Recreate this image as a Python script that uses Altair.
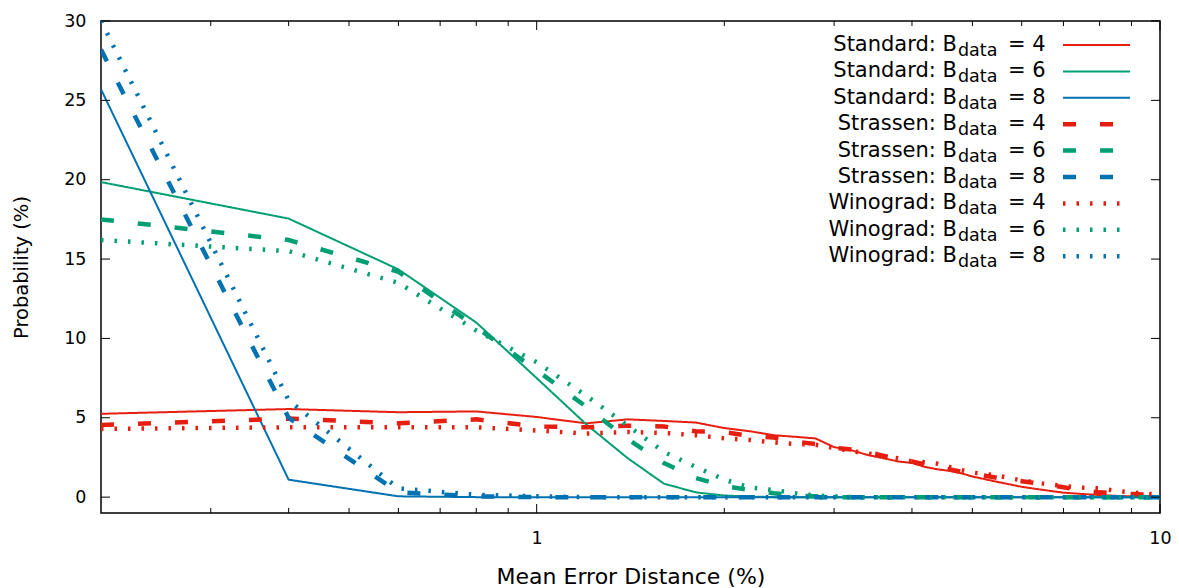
import altair as alt
import pandas as pd

# ---------------- data ----------------
X = [0.2, 0.4, 0.6, 0.8, 1.0, 1.2, 1.4, 1.6, 1.8, 2.0, 2.2, 2.4, 2.6, 2.8, 3.0,
     3.2, 3.4, 3.6, 3.8, 4.0, 4.2, 4.4, 4.6, 4.8, 5.0, 5.5, 6.0, 6.5, 7.0, 7.5,
     8.0, 8.5, 9.0, 9.5, 10.0]

standard_4 = [5.25, 5.55, 5.35, 5.4, 5.05, 4.65, 4.9, 4.8, 4.7, 4.35, 4.15, 3.9, 3.8, 3.7, 3.15,
              2.95, 2.65, 2.45, 2.25, 2.15, 1.9, 1.75, 1.65, 1.5, 1.3, 0.95, 0.65, 0.45, 0.28, 0.2,
              0.13, 0.08, 0.05, 0.03, 0.02]
standard_6 = [19.85, 17.55, 14.35, 11.0, 7.5, 4.6, 2.45, 0.85, 0.3, 0.1, 0.04, 0, 0, 0, 0,
              0, 0, 0, 0, 0, 0, 0, 0, 0, 0, 0, 0, 0, 0, 0,
              0, 0, 0, 0, 0]
standard_8 = [25.7, 1.1, 0.05, 0, 0, 0, 0, 0, 0, 0, 0, 0, 0, 0, 0,
              0, 0, 0, 0, 0, 0, 0, 0, 0, 0, 0, 0, 0, 0, 0,
              0, 0, 0, 0, 0]
strassen_4 = [4.55, 4.95, 4.65, 4.9, 4.45, 4.4, 4.5, 4.45, 4.15, 4.1, 3.85, 3.75, 3.5, 3.35, 3.1,
              3.0, 2.85, 2.6, 2.4, 2.25, 2.05, 1.9, 1.75, 1.6, 1.5, 1.2, 1.0, 0.82, 0.62, 0.42,
              0.3, 0.25, 0.2, 0.15, 0.1]
strassen_6 = [17.5, 16.2, 14.2, 10.7, 8.0, 5.7, 3.65, 2.15, 1.2, 0.7, 0.45, 0.25, 0.1, 0.05, 0,
              0, 0, 0, 0, 0, 0, 0, 0, 0, 0, 0, 0, 0, 0, 0,
              0, 0, 0, 0, 0]
strassen_8 = [28.2, 5.0, 0.3, 0.05, 0, 0, 0, 0, 0, 0, 0, 0, 0, 0, 0,
              0, 0, 0, 0, 0, 0, 0, 0, 0, 0, 0, 0, 0, 0, 0,
              0, 0, 0, 0, 0]
winograd_4 = [4.3, 4.4, 4.4, 4.4, 4.2, 4.0, 4.1, 4.05, 3.9, 3.7, 3.6, 3.45, 3.35, 3.3, 3.1,
              2.9, 2.75, 2.6, 2.45, 2.25, 2.2, 2.1, 1.9, 1.7, 1.55, 1.35, 1.05, 0.85, 0.7, 0.6,
              0.55, 0.4, 0.3, 0.22, 0.15]
winograd_6 = [16.2, 15.5, 13.5, 10.5, 8.5, 6.4, 4.5, 2.85, 1.9, 1.1, 0.6, 0.45, 0.25, 0.1, 0.05,
              0, 0, 0, 0, 0, 0, 0, 0, 0, 0, 0, 0, 0, 0, 0,
              0, 0, 0, 0, 0]
winograd_8 = [30.0, 6.1, 0.55, 0.15, 0.05, 0, 0, 0, 0, 0, 0, 0, 0, 0, 0,
              0, 0, 0, 0, 0, 0, 0, 0, 0, 0, 0, 0, 0, 0, 0,
              0, 0, 0, 0, 0]

methods = ["Standard", "Strassen", "Winograd"]
bits = ["4", "6", "8"]
series = {
    ("Standard", "4"): standard_4, ("Standard", "6"): standard_6, ("Standard", "8"): standard_8,
    ("Strassen", "4"): strassen_4, ("Strassen", "6"): strassen_6, ("Strassen", "8"): strassen_8,
    ("Winograd", "4"): winograd_4, ("Winograd", "6"): winograd_6, ("Winograd", "8"): winograd_8,
}

y_ticks = [0, 5, 10, 15, 20, 25, 30]
x_major = [1, 10]
x_minor = [0.3, 0.4, 0.5, 0.6, 0.7, 0.8, 0.9, 2, 3, 4, 5, 6, 7, 8, 9]

# ---------------- styling ----------------
W, H = 1059, 492
FONT = "DejaVu Sans"
colors = ["#e51e10", "#009e73", "#0072b2"]
dash = {"Standard": [1, 0], "Strassen": [13, 24], "Winograd": [2.5, 11]}
width = {"Standard": 2, "Strassen": 4.5, "Winograd": 4.5}

rows = []
for m in methods:
    for b in bits:
        for xv, yv in zip(X, series[(m, b)]):
            rows.append({"x": xv, "y": yv, "method": m, "bits": b})
df = pd.DataFrame(rows)

xscale = alt.Scale(type="log", domain=[0.2, 10], nice=False)
yscale = alt.Scale(domain=[-1, 30], nice=False, zero=False)
cscale = alt.Scale(domain=bits, range=colors)

xaxis = alt.Axis(values=x_major, ticks=False, grid=False, domain=False,
                 labelFontSize=17.5, labelPadding=16, format="~g", labelFont=FONT,
                 labelFlush=False, labelOverlap=False,
                 title="Mean Error Distance (%)", titleFontSize=22, titleFont=FONT,
                 titleFontWeight="normal", titlePadding=20, labelColor="black", titleColor="black")
yaxis = alt.Axis(values=y_ticks, ticks=False, grid=False, domain=False,
                 labelFontSize=17.5, labelPadding=15, labelFont=FONT,
                 labelFlush=False, labelOverlap=False,
                 title="Probability (%)", titleFontSize=19.5, titleFont=FONT,
                 titleFontWeight="normal", titlePadding=32, labelColor="black", titleColor="black")

layers = []
for m in methods:
    ln = alt.Chart(df[df.method == m]).mark_line(
        strokeDash=dash[m], strokeWidth=width[m], clip=True, strokeCap="butt"
    ).encode(
        x=alt.X("x:Q", scale=xscale, axis=xaxis),
        y=alt.Y("y:Q", scale=yscale, axis=yaxis),
        color=alt.Color("bits:N", scale=cscale, legend=None),
        detail="bits:N",
    )
    layers.append(ln)

# ---------------- inward ticks (gnuplot style, mirrored) ----------------
ydf = pd.DataFrame({"y": y_ticks})
xmaj = pd.DataFrame({"x": x_major})
xmin = pd.DataFrame({"x": x_minor})
tk = dict(color="black", strokeWidth=1)
layers += [
    alt.Chart(ydf).mark_rule(**tk).encode(y=alt.Y("y:Q", scale=yscale, axis=yaxis), x=alt.value(0), x2=alt.value(9)),
    alt.Chart(ydf).mark_rule(**tk).encode(y=alt.Y("y:Q", scale=yscale, axis=yaxis), x=alt.value(W - 9), x2=alt.value(W)),
    alt.Chart(xmaj).mark_rule(**tk).encode(x=alt.X("x:Q", scale=xscale, axis=xaxis), y=alt.value(H), y2=alt.value(H - 9)),
    alt.Chart(xmaj).mark_rule(**tk).encode(x=alt.X("x:Q", scale=xscale, axis=xaxis), y=alt.value(0), y2=alt.value(9)),
    alt.Chart(xmin).mark_rule(**tk).encode(x=alt.X("x:Q", scale=xscale, axis=xaxis), y=alt.value(H), y2=alt.value(H - 5)),
    alt.Chart(xmin).mark_rule(**tk).encode(x=alt.X("x:Q", scale=xscale, axis=xaxis), y=alt.value(0), y2=alt.value(5)),
]

# ---------------- custom legend (with subscript) ----------------
leg_rows = []
k = 0
for m in methods:
    for b in bits:
        leg_rows.append({"prefix": f"{m}: B", "sub": "data", "suffix": f"= {b}",
                         "method": m, "bits": b, "ypx": 24 + k * 26.4})
        k += 1
leg = pd.DataFrame(leg_rows)

xb = 856
layers += [
    alt.Chart(leg).mark_text(align="right", baseline="middle", fontSize=21, font=FONT, color="black")
    .encode(text="prefix:N", x=alt.value(xb), y=alt.Y("ypx:Q", scale=None)),
    alt.Chart(leg).mark_text(align="left", baseline="middle", fontSize=17.5, font=FONT, color="black", dy=6)
    .encode(text="sub:N", x=alt.value(xb + 1), y=alt.Y("ypx:Q", scale=None)),
    alt.Chart(leg).mark_text(align="left", baseline="middle", fontSize=21, font=FONT, color="black")
    .encode(text="suffix:N", x=alt.value(xb + 51), y=alt.Y("ypx:Q", scale=None)),
]
for m in methods:
    layers.append(
        alt.Chart(leg[leg.method == m]).mark_rule(strokeDash=dash[m], strokeWidth=width[m], strokeCap="butt")
        .encode(x=alt.value(962), x2=alt.value(1029), y=alt.Y("ypx:Q", scale=None),
                color=alt.Color("bits:N", scale=cscale, legend=None))
    )

chart = alt.layer(*layers).properties(
    width=W, height=H,
    autosize=alt.AutoSizeParams(type="none"),
    padding={"left": 101, "top": 21, "right": 19, "bottom": 75},
).configure(
    font=FONT,
).configure_view(
    stroke="black", strokeWidth=1.5
)

chart.save("out.html", embed_options={"renderer": "svg", "actions": False})
